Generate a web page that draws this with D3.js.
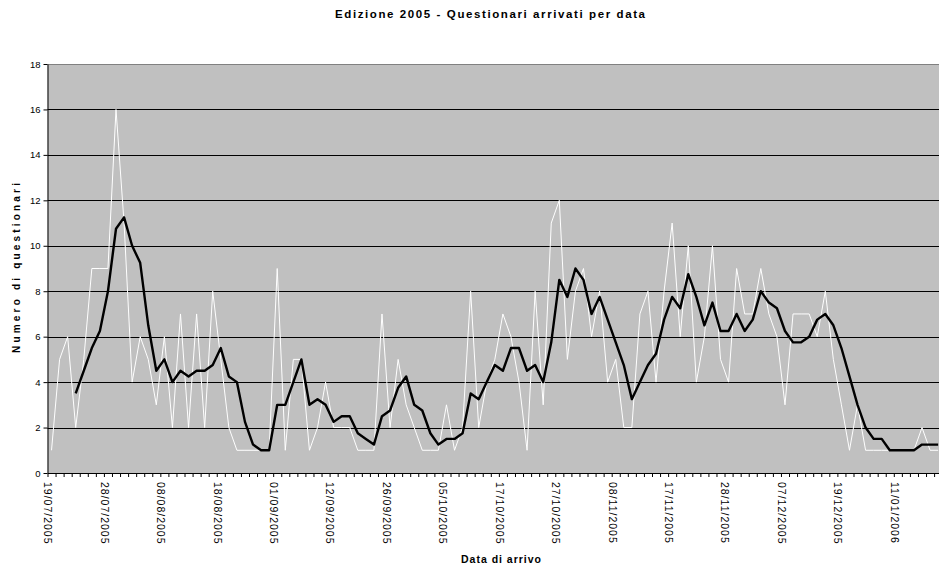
<!DOCTYPE html>
<html>
<head>
<meta charset="utf-8">
<script src="https://cdn.jsdelivr.net/npm/d3@7/dist/d3.min.js"></script>
<style>
  html, body { margin: 0; padding: 0; background: #fff; }
  svg { display: block; font-family: "Liberation Sans", Arial, sans-serif; }
</style>
</head>
<body>
<div id="chart"></div>
<script>
// questionari arrivati per giorno (categorie = giorni con arrivi)
const daily = [
  1, 5, 6, 2, 5, 9, 9, 9, 16, 11, 4, 6, 5, 3, 6, 2, 7, 2, 7, 2,
  8, 5, 2, 1, 1, 1, 1, 1, 9, 1, 5, 5, 1, 2, 4, 2, 2, 2, 1, 1,
  1, 7, 2, 5, 3, 2, 1, 1, 1, 3, 1, 2, 8, 2, 4, 5, 7, 6, 4, 1,
  8, 3, 11, 12, 5, 8, 9, 6, 8, 4, 5, 2, 2, 7, 8, 4, 8, 11, 6, 10,
  4, 6, 10, 5, 4, 9, 7, 7, 9, 7, 6, 3, 7, 7, 7, 6, 8, 5, 3, 1,
  3, 1, 1, 1, 1, 1, 1, 1, 2, 1, 1
];

// media mobile (linea nera)
const trend = [
  null, null, null, 3.5, 4.5, 5.5, 6.25, 8, 10.75, 11.25, 10, 9.25, 6.5, 4.5, 5, 4, 4.5, 4.25, 4.5, 4.5,
  4.75, 5.5, 4.25, 4, 2.25, 1.25, 1, 1, 3, 3, 4, 5, 3, 3.25, 3, 2.25, 2.5, 2.5, 1.75, 1.5,
  1.25, 2.5, 2.75, 3.75, 4.25, 3, 2.75, 1.75, 1.25, 1.5, 1.5, 1.75, 3.5, 3.25, 4, 4.75, 4.5, 5.5, 5.5, 4.5,
  4.75, 4, 5.75, 8.5, 7.75, 9, 8.5, 7, 7.75, 6.75, 5.75, 4.75, 3.25, 4, 4.75, 5.25, 6.75, 7.75, 7.25, 8.75,
  7.75, 6.5, 7.5, 6.25, 6.25, 7, 6.25, 6.75, 8, 7.5, 7.25, 6.25, 5.75, 5.75, 6, 6.75, 7, 6.5, 5.5, 4.25,
  3, 2, 1.5, 1.5, 1, 1, 1, 1, 1.25, 1.25, 1.25
];

// etichette dell'asse x, una ogni 7 categorie
const dateLabels = [
  '19/07/2005', '28/07/2005', '08/08/2005', '18/08/2005', '01/09/2005', '12/09/2005',
  '26/09/2005', '05/10/2005', '17/10/2005', '27/10/2005', '08/11/2005', '17/11/2005',
  '28/11/2005', '07/12/2005', '19/12/2005', '11/01/2006'
];
const labelStep = 7;
const yTicks = [0, 2, 4, 6, 8, 10, 12, 14, 16, 18];

const width = 939;
const height = 566;
const plot = { left: 47.5, top: 64, bottom: 473, band: 8.06 };
const n = daily.length;

const svg = d3.select('#chart').append('svg')
  .attr('width', width).attr('height', height);

// bordi delle categorie
const xEdge = d3.scaleLinear().domain([0, n]).range([plot.left, plot.left + n * plot.band]);
const y = d3.scaleLinear().domain([0, 18]).range([plot.bottom, plot.top]);

svg.append('rect')
  .attr('x', plot.left).attr('y', plot.top)
  .attr('width', xEdge(n) - plot.left).attr('height', plot.bottom - plot.top)
  .attr('fill', '#c0c0c0');

// griglia
svg.append('g').selectAll('line').data(yTicks.filter((d) => d > 0)).join('line')
  .attr('x1', plot.left).attr('x2', xEdge(n))
  .attr('y1', (d) => Math.round(y(d)) + 0.5).attr('y2', (d) => Math.round(y(d)) + 0.5)
  .attr('stroke', (d) => d === 18 ? '#808080' : '#000').attr('stroke-width', 1);

// linee
const line = d3.line()
  .defined((d) => d != null)
  .x((d, i) => xEdge(i + 0.5))
  .y((d) => y(d));

svg.append('path').datum(daily)
  .attr('d', line).attr('fill', 'none')
  .attr('stroke', '#fff').attr('stroke-width', 1);

svg.append('path').datum(trend)
  .attr('d', line).attr('fill', 'none')
  .attr('stroke', '#000').attr('stroke-width', 2.4).attr('stroke-linejoin', 'round');

// asse y
const yAxis = svg.append('g')
  .attr('transform', `translate(${plot.left},0)`)
  .call(d3.axisLeft(y).tickValues(yTicks).tickSize(4).tickPadding(3).tickSizeOuter(0));
yAxis.select('.domain').attr('stroke', '#000');
yAxis.selectAll('.tick line').attr('stroke', '#000');
yAxis.selectAll('.tick text')
  .attr('font-size', 9.5).attr('fill', '#000').attr('font-family', '"Liberation Sans", Arial, sans-serif');

// asse x
const xAxis = svg.append('g')
  .attr('transform', `translate(0,${plot.bottom})`)
  .call(d3.axisBottom(xEdge)
    .tickValues(d3.range(n + 1))
    .tickSize(4).tickSizeOuter(0)
    .tickFormat((d) => (d % labelStep === 0 && dateLabels[d / labelStep]) ? dateLabels[d / labelStep] : ''));
xAxis.select('.domain').attr('stroke', '#000');
xAxis.selectAll('.tick line').attr('stroke', '#000');
xAxis.selectAll('.tick text')
  .attr('transform', 'rotate(90)')
  .attr('x', 9).attr('y', 0).attr('dy', '0.35em')
  .attr('text-anchor', 'start')
  .attr('font-size', 10.5).attr('letter-spacing', 1)
  .attr('fill', '#000').attr('font-family', '"Liberation Sans", Arial, sans-serif');

// titoli
svg.append('text')
  .attr('x', 490).attr('y', 18).attr('text-anchor', 'middle')
  .attr('font-size', 11.5).attr('font-weight', 'bold')
  .attr('textLength', 310).attr('lengthAdjust', 'spacing')
  .text('Edizione 2005 - Questionari arrivati per data');

svg.append('text')
  .attr('transform', 'translate(20,268) rotate(-90)')
  .attr('text-anchor', 'middle')
  .attr('font-size', 10).attr('font-weight', 'bold')
  .attr('textLength', 170).attr('lengthAdjust', 'spacing')
  .text('Numero di questionari');

svg.append('text')
  .attr('x', 501).attr('y', 563).attr('text-anchor', 'middle')
  .attr('font-size', 10.5).attr('font-weight', 'bold')
  .attr('textLength', 80).attr('lengthAdjust', 'spacing')
  .text('Data di arrivo');
</script>
</body>
</html>
